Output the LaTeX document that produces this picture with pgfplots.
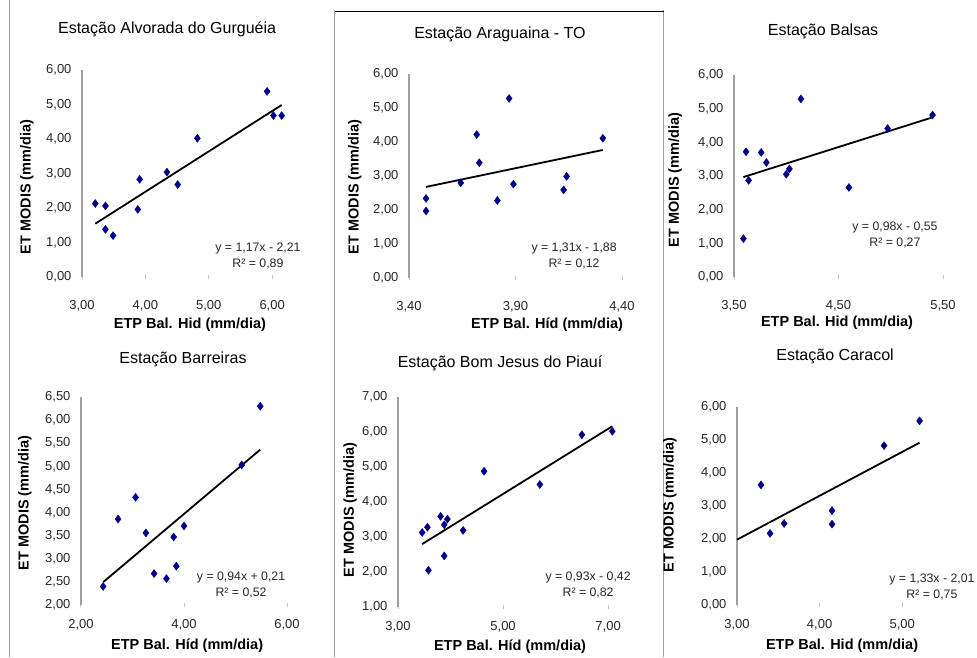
\documentclass[border=0pt]{standalone}
\usepackage{fontspec}
\setmainfont{Liberation Sans}
\usepackage{pgfplots}
\pgfplotsset{compat=1.18}
\definecolor{ptblue}{RGB}{0,0,140}
\definecolor{axgray}{RGB}{160,160,160}
\pgfplotsset{
  panel/.style={
    scale only axis,
    anchor=south west,
    axis x line*=bottom, axis y line*=left,
    x axis line style={draw=none},
    y axis line style={draw=axgray, line width=1.6pt},
    ytick style={draw=none},
    xtick style={draw=gray!45, line width=1pt},
    major tick length=4pt,
    tick align=center,
    tick label style={font=\fontsize{13}{15}\selectfont, text=black!85},
    yticklabel style={xshift=-5pt},
    /pgf/number format/fixed,
    /pgf/number format/fixed zerofill,
    /pgf/number format/precision=2,
    /pgf/number format/use comma,
    /pgf/number format/assume math mode=true,
    title style={font=\fontsize{16}{19}\selectfont, anchor=center, yshift=-7pt},
    label style={font=\bfseries\fontsize{14.5}{17}\selectfont},
    clip=false,
  },
  row1/.style={xticklabel shift=18pt},
  row2/.style={xticklabel shift=9pt},
  pts/.style={only marks, mark=diamond*, mark size=4pt, mark options={draw=ptblue, fill=ptblue, solid}},
  fit/.style={black, line width=1.8pt, no marks},
}
\tikzset{eq/.style={align=center, font=\fontsize{12.3}{16.5}\selectfont, text=black!85}}
\begin{document}
\begin{tikzpicture}
\path[use as bounding box] (0pt,0pt) rectangle (977pt,657pt);
% frames of the pasted charts
\draw[axgray, line width=1.5pt] (9.5pt,0pt) -- (9.5pt,657pt);
\draw[axgray, line width=1.5pt] (334.5pt,0pt) -- (334.5pt,647pt);
\draw[axgray, line width=1.5pt] (663.5pt,0pt) -- (663.5pt,647pt);
\draw[black, line width=1.2pt] (335pt,645.5pt) -- (663.5pt,645.5pt);

% ---------- Panel 1: Alvorada do Gurgueia ----------
\begin{axis}[panel, row1, at={(82pt,380pt)}, width=206pt, height=207pt,
  xmin=3, xmax=6.25, ymin=0, ymax=6,
  xtick={3,4,5,6}, ytick={0,1,2,3,4,5,6},
  title={Estação Alvorada do Gurguéia},
  title style={at={(axis description cs:0.413,1.203)}},
  xlabel={ETP Bal. Hid (mm/dia)},
  xlabel style={at={(axis description cs:0.524,-0.232)}, anchor=center},
  ylabel={ET MODIS (mm/dia)},
  ylabel style={at={(axis description cs:-0.267,0.435)}, anchor=center}]
\addplot[pts] coordinates {(3.21,2.13) (3.37,2.06) (3.37,1.38) (3.49,1.20) (3.91,2.83) (3.88,1.96) (4.34,3.04) (4.51,2.68) (4.82,4.02) (5.92,5.38) (6.02,4.68) (6.15,4.68)};
\addplot[fit] coordinates {(3.21,1.546) (6.15,4.986)};
\node[eq] at (axis description cs:0.854,0.101) {y = 1,17x - 2,21\\R² = 0,89};
\end{axis}

% ---------- Panel 2: Araguaina ----------
\begin{axis}[panel, row1, at={(409pt,379pt)}, width=213pt, height=204pt,
  xmin=3.4, xmax=4.4, ymin=0, ymax=6,
  xtick={3.4,3.9,4.4}, ytick={0,1,2,3,4,5,6},
  title={Estação Araguaina - TO},
  title style={at={(axis description cs:0.427,1.201)}},
  xlabel={ETP Bal. Híd (mm/dia)},
  xlabel style={at={(axis description cs:0.648,-0.230)}, anchor=center},
  ylabel={ET MODIS (mm/dia)},
  ylabel style={at={(axis description cs:-0.254,0.446)}, anchor=center}]
\addplot[pts] coordinates {(3.48,2.34) (3.48,1.97) (3.643,2.80) (3.718,4.22) (3.73,3.39) (3.815,2.28) (3.87,5.28) (3.89,2.76) (4.126,2.59) (4.14,2.99) (4.31,4.11)};
\addplot[fit] coordinates {(3.48,2.679) (4.31,3.766)};
\node[eq] at (axis description cs:0.775,0.108) {y = 1,31x - 1,88\\R² = 0,12};
\end{axis}

% ---------- Panel 3: Balsas ----------
\begin{axis}[panel, row1, at={(734pt,380pt)}, width=209pt, height=202pt,
  xmin=3.5, xmax=5.5, ymin=0, ymax=6,
  xtick={3.5,4.5,5.5}, ytick={0,1,2,3,4,5,6},
  title={Estação Balsas},
  title style={at={(axis description cs:0.426,1.223)}},
  xlabel={ETP Bal. Hid (mm/dia)},
  xlabel style={at={(axis description cs:0.493,-0.228)}, anchor=center},
  ylabel={ET MODIS (mm/dia)},
  ylabel style={at={(axis description cs:-0.282,0.48)}, anchor=center}]
\addplot[pts] coordinates {(3.59,1.14) (3.615,3.72) (3.64,2.87) (3.76,3.70) (3.81,3.40) (4.00,3.05) (4.03,3.21) (4.14,5.29) (4.60,2.66) (4.97,4.41) (5.40,4.81)};
\addplot[fit] coordinates {(3.59,2.968) (5.40,4.742)};
\node[eq] at (axis description cs:0.770,0.208) {y = 0,98x - 0,55\\R² = 0,27};
\end{axis}

% ---------- Panel 4: Barreiras ----------
\begin{axis}[panel, row2, at={(81pt,52pt)}, width=206pt, height=208pt,
  xmin=2, xmax=6, ymin=2, ymax=6.5,
  xtick={2,4,6}, ytick={2,2.5,3,3.5,4,4.5,5,5.5,6,6.5},
  title={Estação Barreiras},
  title style={at={(axis description cs:0.495,1.188)}},
  xlabel={ETP Bal. Híd (mm/dia)},
  xlabel style={at={(axis description cs:0.515,-0.197)}, anchor=center},
  ylabel={ET MODIS (mm/dia)},
  ylabel style={at={(axis description cs:-0.272,0.49)}, anchor=center}]
\addplot[pts] coordinates {(2.43,2.40) (2.72,3.86) (3.06,4.33) (3.26,3.56) (3.42,2.68) (3.66,2.57) (3.80,3.47) (3.85,2.84) (4.00,3.71) (5.12,5.03) (5.48,6.30)};
\addplot[fit] coordinates {(2.43,2.494) (5.48,5.361)};
\node[eq] at (axis description cs:0.777,0.096) {y = 0,94x + 0,21\\R² = 0,52};
\end{axis}

% ---------- Panel 5: Bom Jesus do Piaui ----------
\begin{axis}[panel, row2, at={(398pt,50pt)}, width=218pt, height=210pt,
  xmin=3, xmax=7.15, ymin=1, ymax=7,
  xtick={3,5,7}, ytick={1,2,3,4,5,6,7},
  title={Estação Bom Jesus do Piauí},
  title style={at={(axis description cs:0.468,1.167)}},
  xlabel={ETP Bal. Híd (mm/dia)},
  xlabel style={at={(axis description cs:0.514,-0.188)}, anchor=center},
  ylabel={ET MODIS (mm/dia)},
  ylabel style={at={(axis description cs:-0.22,0.462)}, anchor=center}]
\addplot[pts] coordinates {(3.46,3.13) (3.56,3.28) (3.58,2.05) (3.81,3.59) (3.88,3.35) (3.94,3.51) (3.88,2.46) (4.24,3.19) (4.64,4.88) (5.70,4.50) (6.50,5.92) (7.08,6.02)};
\addplot[fit] coordinates {(3.46,2.798) (7.08,6.164)};
\node[eq] at (axis description cs:0.872,0.105) {y = 0,93x - 0,42\\R² = 0,82};
\end{axis}

% ---------- Panel 6: Caracol ----------
\begin{axis}[panel, row2, at={(737pt,52pt)}, width=190pt, height=198pt,
  xmin=3, xmax=5.3, ymin=0, ymax=6,
  xtick={3,4,5}, ytick={0,1,2,3,4,5,6},
  title={Estação Caracol},
  title style={at={(axis description cs:0.516,1.263)}},
  xlabel={ETP Bal. Hid (mm/dia)},
  xlabel style={at={(axis description cs:0.553,-0.207)}, anchor=center},
  ylabel={ET MODIS (mm/dia)},
  ylabel style={at={(axis description cs:-0.353,0.505)}, anchor=center}]
\addplot[pts] coordinates {(3.29,3.64) (3.40,2.17) (3.57,2.47) (4.15,2.86) (4.15,2.45) (4.78,4.83) (5.21,5.58)};
\addplot[fit] coordinates {(3.00,1.98) (5.21,4.919)};
\node[eq] at (axis description cs:1.026,0.091) {y = 1,33x - 2,01\\R² = 0,75};
\end{axis}
\end{tikzpicture}
\end{document}
